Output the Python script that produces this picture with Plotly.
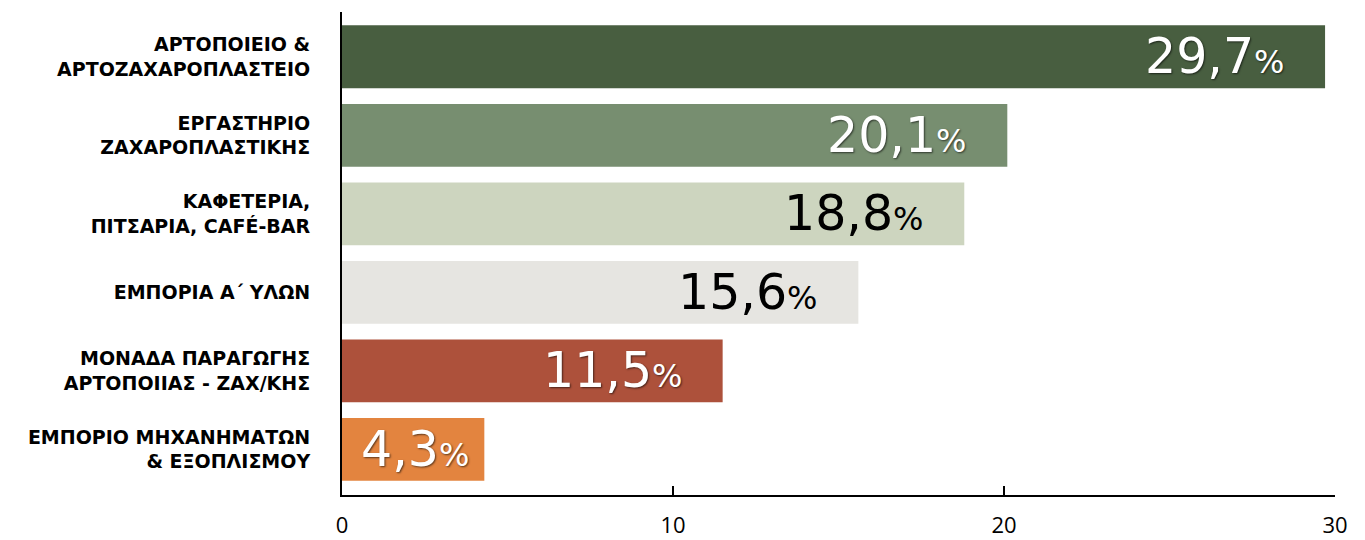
import plotly.graph_objects as go

categories = [
    "ΑΡΤΟΠΟΙΕΙΟ &<br>ΑΡΤΟΖΑΧΑΡΟΠΛΑΣΤΕΙΟ",
    "ΕΡΓΑΣΤΗΡΙΟ<br>ΖΑΧΑΡΟΠΛΑΣΤΙΚΗΣ",
    "ΚΑΦΕΤΕΡΙΑ,<br>ΠΙΤΣΑΡΙΑ, CAFÉ-BAR",
    "ΕΜΠΟΡΙΑ Α΄ ΥΛΩΝ",
    "ΜΟΝΑΔΑ ΠΑΡΑΓΩΓΗΣ<br>ΑΡΤΟΠΟΙΙΑΣ - ΖΑΧ/ΚΗΣ",
    "ΕΜΠΟΡΙΟ ΜΗΧΑΝΗΜΑΤΩΝ<br>& ΕΞΟΠΛΙΣΜΟΥ",
]
values = [29.7, 20.1, 18.8, 15.6, 11.5, 4.3]
value_labels = ["29,7", "20,1", "18,8", "15,6", "11,5", "4,3"]
colors = ["#485e40", "#778e70", "#cdd5bf", "#e6e5e1", "#ad513b", "#e3843f"]
label_colors = ["white", "white", "black", "black", "white", "white"]
x_ticks = [0, 10, 20, 30]

fig = go.Figure()
fig.add_trace(go.Bar(
    x=values, y=categories, orientation="h",
    marker=dict(color=colors, line=dict(width=0)),
    width=0.8, hoverinfo="skip",
))

for i, (cat, v, lab, c) in enumerate(zip(categories, values, value_labels, label_colors)):
    shadow = "1px 1px 2px rgba(0,0,0,0.6)" if c == "white" else "none"
    short = v < 8
    fig.add_annotation(
        x=v / 2 if short else v, y=cat, xref="x", yref="y",
        text=f"{lab}<span style='font-size:32px'>%</span>",
        showarrow=False, xanchor="center" if short else "right", yanchor="middle",
        xshift=2 if short else -38, yshift=0,
        font=dict(family="DejaVu Sans", size=49, color=c, shadow=shadow),
    )

fig.update_layout(
    width=1365, height=540,
    margin=dict(l=334, r=38, t=4, b=53, autoexpand=False),
    paper_bgcolor="white", plot_bgcolor="white",
    showlegend=False,
    bargap=0.2,
    xaxis=dict(
        range=[0, 30], tickvals=x_ticks, ticks="inside", ticklen=9, tickwidth=2,
        tickcolor="black", showline=True, linecolor="black", linewidth=2,
        showgrid=False, zeroline=False, ticklabelstandoff=10,
        tickfont=dict(family="Open Sans", size=22, color="black"),
    ),
    yaxis=dict(
        categoryorder="array", categoryarray=categories,
        range=[5.58, -0.57], showline=True, linecolor="black", linewidth=2,
        showgrid=False, zeroline=False, ticks="",
        ticklabelstandoff=26,
        tickfont=dict(family="DejaVu Sans", size=19, color="black", weight="bold"),
    ),
)

fig.write_html("out.html")
